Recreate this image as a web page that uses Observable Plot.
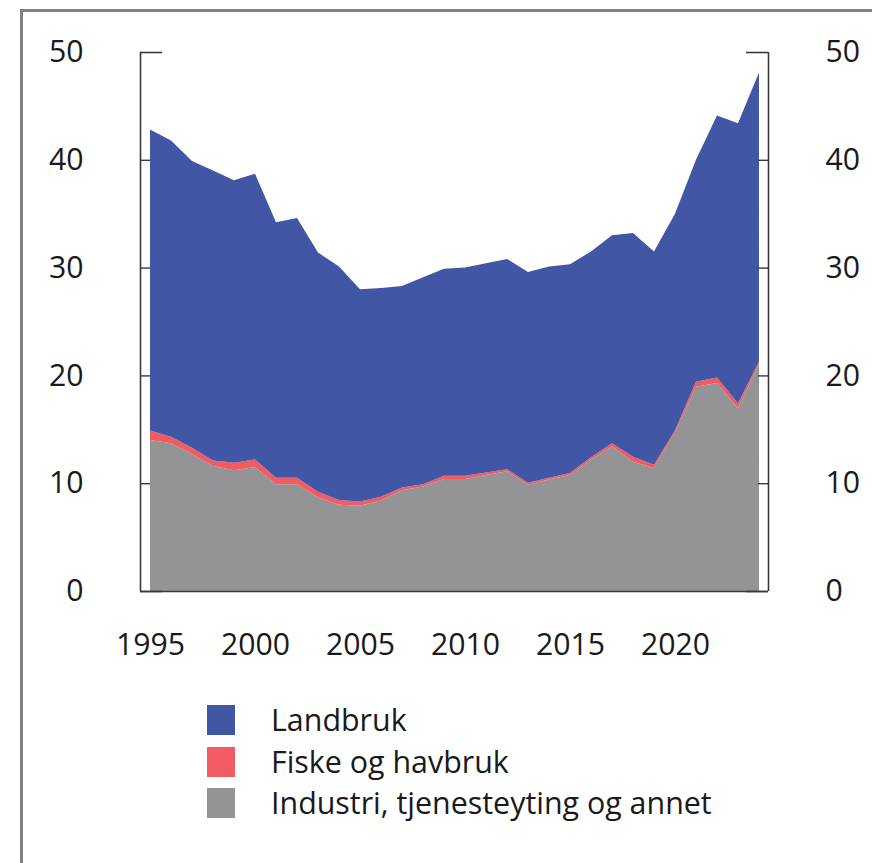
<!DOCTYPE html>
<html><head><meta charset="utf-8">
<script src="https://cdn.jsdelivr.net/npm/d3@7"></script>
<script src="https://cdn.jsdelivr.net/npm/@observablehq/plot@0.6"></script>
<style>
html,body{margin:0;padding:0;background:#fff;overflow:hidden;width:872px;height:863px;}
#border{position:absolute;left:20px;top:9px;width:900px;height:900px;border-left:3px solid #808080;border-top:3px solid #808080;}
#chart{position:absolute;left:0;top:0;}
.row{position:absolute;left:0;height:30px;font-family:"Open Sans";font-size:30.4px;color:#1a1a1a;}
.sw{position:absolute;left:207px;top:0;width:28px;height:30px;}
.lab{position:absolute;left:271px;top:0;line-height:30px;white-space:nowrap;}
</style></head>
<body>
<div id="border"></div>
<div id="chart"></div>
<div id="legend"></div>
<script>
const years = [1995,1996,1997,1998,1999,2000,2001,2002,2003,2004,2005,2006,2007,2008,2009,2010,2011,2012,2013,2014,2015,2016,2017,2018,2019,2020,2021,2022,2023,2024];
const industri = [14.0,13.7,12.7,11.6,11.2,11.5,9.9,9.9,8.7,8.0,7.9,8.4,9.35,9.7,10.4,10.4,10.75,11.1,9.85,10.35,10.75,12.2,13.4,12.0,11.4,14.7,18.95,19.3,16.95,21.05];
const fiske = [0.9,0.6,0.6,0.5,0.7,0.7,0.6,0.6,0.5,0.45,0.4,0.35,0.25,0.2,0.3,0.3,0.25,0.2,0.2,0.15,0.2,0.2,0.3,0.45,0.3,0.2,0.45,0.5,0.45,0.25];
const landbruk = [27.9,27.5,26.6,26.9,26.2,26.5,23.7,24.1,22.2,21.65,19.7,19.35,18.7,19.2,19.2,19.3,19.4,19.5,19.55,19.6,19.35,19.1,19.3,20.75,19.8,20.1,20.6,24.3,26.0,26.8];
const seriesNames = ["Industri, tjenesteyting og annet","Fiske og havbruk","Landbruk"];
const seriesColors = ["#949396","#f25b62","#4157a6"];
const legendOrder = ["Landbruk","Fiske og havbruk","Industri, tjenesteyting og annet"];
const yTicks = [0,10,20,30,40,50];
const xTicks = [1995,2000,2005,2010,2015,2020];

const seriesValues = [industri, fiske, landbruk];
const rows = [];
seriesNames.forEach((s, i) => years.forEach((yr, j) => rows.push({year: yr, series: s, value: seriesValues[i][j]})));

const axisColor = "#3a3a3a";
const xDomain = [1994.524, 2024.43];
const frameW = 872 - 140 - 104;
const fs = 30.2;

const chart = Plot.plot({
  width: 872, height: 680,
  marginLeft: 140, marginRight: 104, marginTop: 52, marginBottom: 89,
  x: {domain: xDomain},
  y: {domain: [0, 50]},
  color: {domain: seriesNames, range: seriesColors},
  style: {fontFamily: "Open Sans", fontSize: fs + "px", color: "#1a1a1a", background: "transparent"},
  marks: [
    Plot.areaY(rows, {x: "year", y: "value", fill: "series", curve: "linear"}),
    Plot.ruleY([0], {stroke: axisColor, strokeWidth: 1.6}),
    Plot.ruleX(xDomain, {y1: 0, y2: 50, stroke: axisColor, strokeWidth: 1.6}),
    Plot.tickY([10,20,30,40], {y: d => d, insetRight: frameW - 10, stroke: axisColor, strokeWidth: 1.4}),
    Plot.tickY([10,20,30,40], {y: d => d, insetLeft: frameW - 10, stroke: axisColor, strokeWidth: 1.4}),
    Plot.tickY([0,50], {y: d => d, insetRight: frameW - 22, stroke: axisColor, strokeWidth: 1.6}),
    Plot.tickY([0,50], {y: d => d, insetLeft: frameW - 22, stroke: axisColor, strokeWidth: 1.6}),
    Plot.axisY({anchor: "left", ticks: yTicks, tickSize: 0, tickPadding: 57, label: null, fontSize: fs}),
    Plot.axisY({anchor: "right", ticks: yTicks, tickSize: 0, tickPadding: 57, label: null, fontSize: fs}),
    Plot.axisX({ticks: xTicks, tickSize: 0, tickPadding: 42, tickFormat: "d", label: null, fontSize: fs})
  ]
});
document.getElementById("chart").appendChild(chart);

const leg = document.getElementById("legend");
const colorOf = Object.fromEntries(seriesNames.map((s, i) => [s, seriesColors[i]]));
legendOrder.forEach((s, i) => {
  const r = document.createElement("div");
  r.className = "row";
  r.style.top = (705 + i * 41.5) + "px";
  r.innerHTML = `<div class="sw" style="background:${colorOf[s]}"></div><div class="lab">${s}</div>`;
  leg.appendChild(r);
});
</script>
</body></html>
